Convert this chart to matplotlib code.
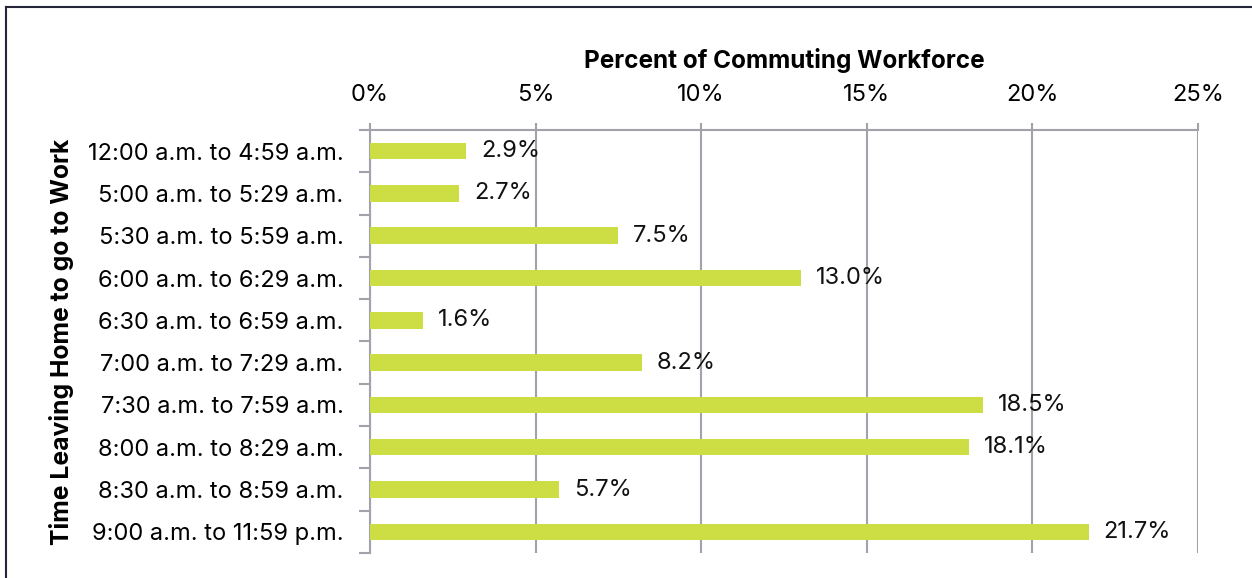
import matplotlib.pyplot as plt
from matplotlib.lines import Line2D
from matplotlib.ticker import FuncFormatter

# Tranches horaires de départ et part de la population active
periodes = ['12:00 a.m. to 4:59 a.m.', '5:00 a.m. to 5:29 a.m.', '5:30 a.m. to 5:59 a.m.',
            '6:00 a.m. to 6:29 a.m.', '6:30 a.m. to 6:59 a.m.', '7:00 a.m. to 7:29 a.m.',
            '7:30 a.m. to 7:59 a.m.', '8:00 a.m. to 8:29 a.m.', '8:30 a.m. to 8:59 a.m.',
            '9:00 a.m. to 11:59 p.m.']
pourcentages = [2.9, 2.7, 7.5, 13.0, 1.6, 8.2, 18.5, 18.1, 5.7, 21.7]
graduations = [0, 5, 10, 15, 20, 25]

plt.rcParams['font.family'] = ['Inter', 'DejaVu Sans']
taille = 17

fig = plt.figure(figsize=(12.52, 5.78), dpi=100)
ax = fig.add_axes([0.2955, 0.0433, 0.6614, 0.7318])

couleur_barre = '#CDDD44'
gris = '#A2A2AA'

y = range(len(periodes))
ax.barh(y, pourcentages, height=0.39, color=couleur_barre, zorder=3)
for i, v in enumerate(pourcentages):
    ax.text(v + 0.45, i, f'{v:.1f}%', va='center', ha='left', fontsize=taille, color='#111111', zorder=4)

ax.set_ylim(len(periodes) - 0.5, -0.5)
ax.set_xlim(0, 25)
ax.set_yticks(list(y))
ax.set_yticklabels(periodes, fontsize=taille)
ax.set_yticks([i - 0.5 for i in range(len(periodes) + 1)], minor=True)
ax.tick_params(axis='y', which='major', length=0, pad=19)
ax.tick_params(axis='y', which='minor', length=8, color=gris, width=1.5)

ax.xaxis.tick_top()
ax.xaxis.set_label_position('top')
ax.set_xticks(graduations)
ax.xaxis.set_major_formatter(FuncFormatter(lambda v, p: f'{v:.0f}%'))
ax.tick_params(axis='x', length=5, color=gris, width=1.5, labelsize=taille, pad=12)
ax.set_xlabel('Percent of Commuting Workforce', fontsize=17.5, fontweight='bold', labelpad=12)
ax.set_ylabel('Time Leaving Home to go to Work', fontsize=17.8, fontweight='bold', labelpad=10)

ax.grid(axis='x', color=gris, linewidth=1.5, zorder=0)
for s in ['bottom', 'right']:
    ax.spines[s].set_visible(False)
for s in ['top', 'left']:
    ax.spines[s].set_color(gris)
    ax.spines[s].set_linewidth(1.5)

# cadre autour du graphique
bord = '#26263A'
fig.add_artist(Line2D([6 / 1252, 1], [1 - 7 / 578, 1 - 7 / 578], color=bord, linewidth=1.5))
fig.add_artist(Line2D([6 / 1252, 6 / 1252], [0, 1 - 7 / 578], color=bord, linewidth=1.5))

fig.savefig('out.png', dpi=100)
